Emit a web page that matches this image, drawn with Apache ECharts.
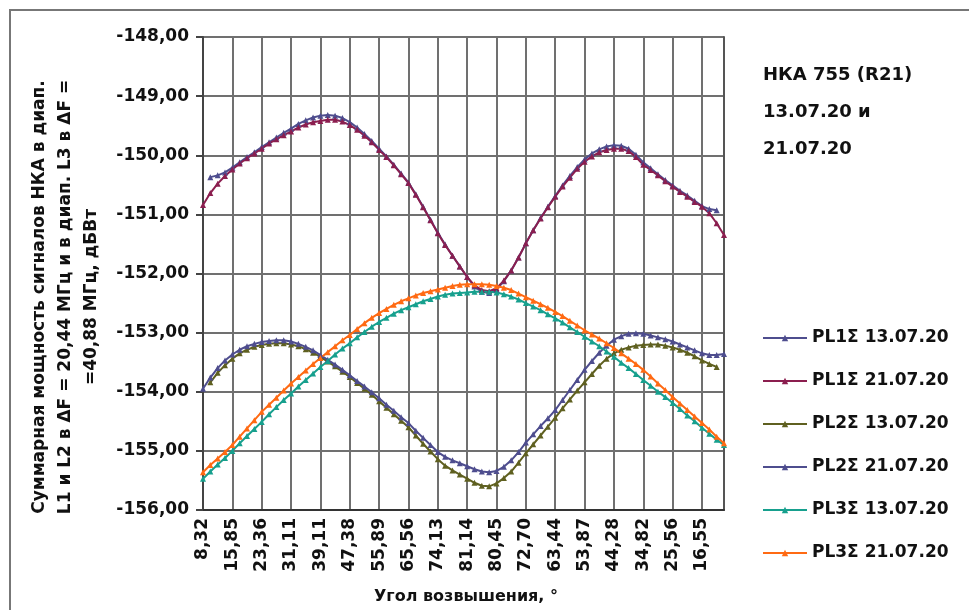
<!DOCTYPE html>
<html>
<head>
<meta charset="utf-8">
<script src="https://cdn.jsdelivr.net/npm/echarts@6/dist/echarts.min.js"></script>
<style>html,body{margin:0;padding:0;background:#fff}#c{width:969px;height:610px}</style>
</head>
<body>
<div id="c"></div>
<script>
// Elevation angle categories (only every 4th is labelled on the axis)
const categories = ['8,32','10,20','12,08','13,96','15,85','17,72','19,60','21,48','23,36','25,29','27,23','29,17',
'31,11','33,11','35,11','37,11','39,11','41,18','43,24','45,31','47,38','49,51','51,64','53,76',
'55,89','58,31','60,73','63,14','65,56','67,70','69,84','71,99','74,13','76,10','78,05','79,75',
'81,14','82,05','82,40','81,85','80,45','78,62','76,68','74,70','72,70','70,38','68,07','65,75',
'63,44','61,05','58,65','56,26','53,87','51,47','49,08','46,68','44,28','41,91','39,55','37,18',
'34,82','32,50','30,19','27,87','25,56','23,31','21,06','18,80','16,55','14,30','12,05','9,80'];

const seriesNames = ['PL1Σ 13.07.20','PL1Σ 21.07.20','PL2Σ 13.07.20','PL2Σ 21.07.20','PL3Σ 13.07.20','PL3Σ 21.07.20'];

const pl1_1307 = [null,-150.37,-150.34,-150.29,-150.21,-150.12,-150.03,-149.95,-149.86,-149.78,-149.70,-149.62,
-149.55,-149.47,-149.41,-149.36,-149.33,-149.32,-149.33,-149.37,-149.44,-149.53,-149.64,-149.76,
-149.89,-150.02,-150.16,-150.31,-150.46,-150.66,-150.87,-151.09,-151.31,-151.51,-151.70,-151.88,
-152.06,-152.22,-152.31,-152.33,-152.27,-152.13,-151.95,-151.73,-151.49,-151.27,-151.06,-150.87,
-150.69,-150.51,-150.35,-150.20,-150.07,-149.97,-149.90,-149.85,-149.83,-149.84,-149.89,-149.99,
-150.12,-150.22,-150.32,-150.42,-150.51,-150.60,-150.68,-150.77,-150.86,-150.91,-150.93,null];

const pl1_2107 = [-150.84,-150.64,-150.48,-150.35,-150.24,-150.14,-150.05,-149.97,-149.89,-149.80,-149.73,-149.66,
-149.60,-149.53,-149.48,-149.44,-149.42,-149.40,-149.40,-149.43,-149.49,-149.57,-149.67,-149.78,
-149.91,-150.03,-150.17,-150.32,-150.47,-150.67,-150.88,-151.10,-151.32,-151.52,-151.70,-151.88,
-152.06,-152.20,-152.28,-152.30,-152.25,-152.12,-151.95,-151.73,-151.49,-151.27,-151.07,-150.88,
-150.70,-150.53,-150.38,-150.23,-150.11,-150.02,-149.95,-149.91,-149.89,-149.89,-149.93,-150.03,
-150.16,-150.25,-150.34,-150.44,-150.53,-150.62,-150.70,-150.79,-150.87,-150.98,-151.15,-151.35];

const pl2_1307 = [null,-153.84,-153.68,-153.55,-153.44,-153.35,-153.29,-153.24,-153.21,-153.19,-153.18,-153.18,
-153.20,-153.23,-153.28,-153.34,-153.41,-153.49,-153.57,-153.66,-153.75,-153.85,-153.95,-154.05,
-154.16,-154.27,-154.38,-154.49,-154.60,-154.74,-154.88,-155.01,-155.14,-155.25,-155.33,-155.40,
-155.47,-155.54,-155.59,-155.60,-155.55,-155.46,-155.35,-155.20,-155.04,-154.89,-154.74,-154.59,
-154.44,-154.28,-154.13,-153.98,-153.84,-153.70,-153.56,-153.44,-153.35,-153.29,-153.25,-153.22,
-153.21,-153.20,-153.20,-153.22,-153.25,-153.29,-153.34,-153.40,-153.47,-153.53,-153.58,null];

const pl2_2107 = [-153.95,-153.76,-153.60,-153.47,-153.37,-153.29,-153.23,-153.19,-153.16,-153.14,-153.13,-153.13,
-153.15,-153.19,-153.24,-153.30,-153.38,-153.46,-153.54,-153.63,-153.72,-153.82,-153.91,-154.01,
-154.11,-154.22,-154.32,-154.43,-154.53,-154.66,-154.78,-154.90,-155.02,-155.10,-155.16,-155.21,
-155.26,-155.31,-155.35,-155.36,-155.34,-155.27,-155.16,-155.02,-154.86,-154.72,-154.58,-154.45,
-154.31,-154.14,-153.97,-153.80,-153.63,-153.48,-153.34,-153.22,-153.12,-153.06,-153.02,-153.01,
-153.02,-153.05,-153.08,-153.11,-153.15,-153.20,-153.25,-153.30,-153.35,-153.38,-153.38,-153.36];

const pl3_1307 = [-155.47,-155.35,-155.23,-155.12,-155.00,-154.87,-154.75,-154.63,-154.51,-154.38,-154.26,-154.14,
-154.03,-153.91,-153.80,-153.69,-153.58,-153.48,-153.37,-153.27,-153.18,-153.08,-152.99,-152.90,
-152.82,-152.75,-152.68,-152.62,-152.57,-152.52,-152.47,-152.43,-152.39,-152.36,-152.34,-152.33,
-152.32,-152.31,-152.31,-152.31,-152.32,-152.35,-152.39,-152.44,-152.50,-152.56,-152.62,-152.69,
-152.76,-152.83,-152.91,-152.99,-153.07,-153.15,-153.23,-153.32,-153.41,-153.51,-153.60,-153.70,
-153.80,-153.90,-154.00,-154.09,-154.19,-154.29,-154.40,-154.50,-154.61,-154.71,-154.81,-154.90];

const pl3_2107 = [-155.36,-155.24,-155.13,-155.02,-154.90,-154.76,-154.62,-154.48,-154.34,-154.22,-154.10,-153.98,
-153.86,-153.75,-153.64,-153.53,-153.43,-153.33,-153.23,-153.13,-153.04,-152.94,-152.84,-152.75,
-152.67,-152.60,-152.53,-152.47,-152.42,-152.37,-152.33,-152.30,-152.27,-152.24,-152.21,-152.19,
-152.18,-152.18,-152.18,-152.19,-152.21,-152.24,-152.28,-152.34,-152.40,-152.46,-152.52,-152.58,
-152.65,-152.72,-152.80,-152.88,-152.96,-153.03,-153.10,-153.18,-153.26,-153.35,-153.44,-153.53,
-153.63,-153.74,-153.86,-153.97,-154.09,-154.20,-154.31,-154.42,-154.53,-154.64,-154.76,-154.87];

const seriesData = [pl1_1307, pl1_2107, pl2_1307, pl2_2107, pl3_1307, pl3_2107];
const seriesColors = ['#4E4D8E','#8B1E4F','#5F6020','#4E4D8E','#17A08E','#FF6A13'];

const yTitle = 'Суммарная мощность сигналов НКА в диап.\nL1 и L2 в ΔF = 20,44 МГц и в диап. L3 в ΔF =\n=40,88 МГц, дБВт';
const xTitle = 'Угол возвышения, °';
const note = 'НКА 755 (R21)\n13.07.20 и\n21.07.20';

const FONT = 'DejaVu Sans';
const GRID = '#707070';
const chart = echarts.init(document.getElementById('c'), null, {renderer: 'canvas'});

chart.setOption({
  animation: false,
  backgroundColor: '#fff',
  textStyle: {fontFamily: FONT},
  grid: {left: 203, right: 245, top: 37, bottom: 100},
  xAxis: {
    type: 'category', data: categories, boundaryGap: false,
    axisLine: {show: true, lineStyle: {color: '#333', width: 2}},
    axisTick: {show: false},
    axisLabel: {show: true, interval: 3, rotate: 90, margin: 8, fontSize: 17, fontWeight: 'bold', color: '#111', fontFamily: FONT},
    splitLine: {show: true, interval: 3, lineStyle: {color: GRID, width: 2, type: 'solid'}}
  },
  yAxis: [{
    type: 'value', min: -156, max: -148, interval: 1,
    axisLine: {show: true, lineStyle: {color: '#444', width: 2}},
    axisTick: {show: true, length: 7, lineStyle: {color: '#444', width: 2}},
    axisLabel: {margin: 14, fontSize: 17, fontWeight: 'bold', color: '#111', fontFamily: FONT,
      formatter: v => v.toFixed(2).replace('.', ',')},
    splitLine: {show: true, lineStyle: {color: GRID, width: 2, type: 'solid'}}
  }, {
    type: 'value', min: -156, max: -148, interval: 1, position: 'right',
    axisLine: {show: true, lineStyle: {color: '#555', width: 2}},
    axisTick: {show: false}, axisLabel: {show: false}, splitLine: {show: false}
  }],
  legend: {
    orient: 'vertical', left: 757, top: 323, itemWidth: 44, itemHeight: 8, itemGap: 23,
    textStyle: {fontSize: 17, fontWeight: 'bold', color: '#111', fontFamily: FONT, lineHeight: 20},
    data: seriesNames
  },
  graphic: [
    {type: 'polyline', silent: true, shape: {points: [[10, 620], [10, 10], [980, 10]]}, style: {fill: null, stroke: '#777', lineWidth: 2}},
    {type: 'text', x: 66, y: 297, rotation: Math.PI / 2,
      style: {text: yTitle, fontFamily: FONT, fontSize: 17, fontWeight: 'bold', fill: '#111', align: 'center', verticalAlign: 'middle', lineHeight: 26}},
    {type: 'text', x: 466, y: 597,
      style: {text: xTitle, fontFamily: FONT, fontSize: 16, fontWeight: 'bold', fill: '#111', align: 'center', verticalAlign: 'middle'}},
    {type: 'text', x: 763, y: 112,
      style: {text: note, fontFamily: FONT, fontSize: 18, fontWeight: 'bold', fill: '#111', align: 'left', verticalAlign: 'middle', lineHeight: 37}}
  ],
  series: seriesNames.map((name, i) => ({
    name, type: 'line', data: seriesData[i], yAxisIndex: 0,
    symbol: 'triangle', symbolSize: 6, showAllSymbol: true,
    lineStyle: {color: seriesColors[i], width: 2},
    itemStyle: {color: seriesColors[i]},
    connectNulls: false
  }))
});
</script>
</body>
</html>
